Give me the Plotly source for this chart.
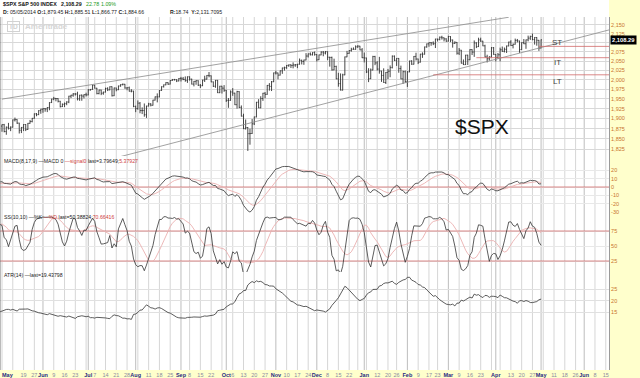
import numpy as np
import pandas as pd
import plotly.graph_objects as go

# ---------------- data ----------------
holidays = ["2014-04-18", "2014-05-26", "2014-07-04", "2014-09-01", "2014-11-27",
            "2014-12-25", "2015-01-01", "2015-01-19", "2015-02-16", "2015-04-03", "2015-05-25"]
first_day = "2014-05-05"

close = [
    # Mar 2014 (indicator warm-up, off screen)
    1845.73, 1873.91, 1873.81, 1877.03, 1878.04, 1877.17, 1867.63, 1868.20, 1846.34, 1841.13, 1858.83,
    1872.25, 1860.77, 1872.01, 1866.52, 1857.44, 1865.62, 1852.56, 1849.04, 1857.62, 1872.34,
    # Apr 2014 + May 1-2 (warm-up)
    1885.52, 1890.90, 1888.77, 1865.09, 1845.04, 1851.96, 1872.18, 1833.08, 1815.69, 1830.61, 1842.98,
    1862.31, 1864.85, 1871.89, 1879.55, 1875.39, 1878.61, 1863.40, 1869.43, 1878.33, 1883.95,
    1883.68, 1881.14,
    # May 2014
    1884.66, 1867.72, 1878.21, 1875.63, 1878.48, 1896.65, 1897.45, 1888.53, 1870.85, 1877.86, 1885.08,
    1872.83, 1888.03, 1892.49, 1900.53, 1911.91, 1909.78, 1920.03, 1923.57,
    # Jun 2014
    1924.97, 1924.24, 1927.88, 1940.46, 1949.44, 1951.27, 1950.79, 1943.89, 1930.11, 1936.16, 1937.78,
    1941.99, 1956.98, 1959.48, 1962.87, 1962.61, 1949.98, 1959.53, 1957.22, 1960.96, 1960.23,
    # Jul 2014
    1973.32, 1974.62, 1985.44, 1977.65, 1963.71, 1972.83, 1964.68, 1967.57, 1977.10, 1973.28, 1981.57,
    1958.12, 1978.22, 1973.63, 1983.53, 1987.01, 1987.98, 1978.34, 1978.91, 1969.95, 1970.07, 1930.67,
    # Aug 2014
    1925.15, 1938.99, 1920.21, 1920.24, 1909.57, 1931.59, 1936.92, 1933.75, 1946.72, 1955.18, 1955.06,
    1971.74, 1981.60, 1986.51, 1992.37, 1988.40, 1997.92, 2000.02, 2000.12, 1996.74, 2003.37,
    # Sep 2014
    2002.28, 2000.72, 1997.65, 2007.71, 2001.54, 1988.44, 1995.69, 1997.45, 1985.54, 1984.13, 1998.98,
    2001.57, 2011.36, 2010.40, 1994.29, 1982.77, 1998.30, 1965.99, 1982.85, 1977.80, 1972.29,
    # Oct 2014
    1946.16, 1946.17, 1967.90, 1964.82, 1935.10, 1968.89, 1928.21, 1906.13, 1874.74, 1877.70, 1862.49,
    1862.76, 1886.76, 1904.01, 1941.28, 1927.11, 1950.82, 1964.58, 1961.63, 1985.05, 1982.30, 1994.65,
    2018.05,
    # Nov 2014
    2017.81, 2012.10, 2023.57, 2031.21, 2031.92, 2038.26, 2039.68, 2038.25, 2039.33, 2039.82, 2041.32,
    2051.80, 2048.72, 2052.75, 2063.50, 2069.41, 2067.03, 2072.83, 2067.56,
    # Dec 2014
    2053.44, 2066.55, 2074.33, 2071.92, 2075.37, 2060.31, 2059.82, 2026.14, 2035.33, 2002.33, 1989.63,
    1972.74, 2012.89, 2061.23, 2070.65, 2078.54, 2082.17, 2081.88, 2088.77, 2090.57, 2080.35, 2058.90,
    # Jan 2015
    2058.20, 2020.58, 2002.61, 2025.90, 2062.14, 2044.81, 2028.26, 2023.03, 2011.27, 1992.67, 2019.42,
    2022.55, 2032.12, 2063.15, 2051.82, 2057.09, 2029.55, 2002.16, 2021.25, 1994.99,
    # Feb 2015
    2020.85, 2050.03, 2041.51, 2062.52, 2055.47, 2046.74, 2068.59, 2068.53, 2088.48, 2096.99, 2100.34,
    2099.68, 2097.45, 2110.30, 2109.66, 2115.48, 2113.86, 2110.74, 2104.50,
    # Mar 2015
    2117.39, 2107.78, 2098.53, 2101.04, 2071.26, 2079.43, 2044.16, 2040.24, 2065.95, 2053.40, 2081.19,
    2074.28, 2099.50, 2089.27, 2108.10, 2104.42, 2091.50, 2061.05, 2056.15, 2061.02, 2086.24, 2067.89,
    # Apr 2015
    2059.69, 2066.96, 2080.62, 2076.33, 2081.90, 2091.18, 2102.06, 2092.43, 2095.84, 2106.63, 2104.99,
    2081.18, 2100.40, 2097.29, 2107.96, 2112.93, 2117.69, 2108.92, 2114.76, 2106.85, 2085.51,
    # May 2015
    2108.29,
]

# points the high sits above max(open, close) / the low sits below min(open, close)
wick_up = [
    3, 3, 2, 4, 2, 3, 4, 2, 3, 5, 3, 2, 4, 3, 3, 2, 4, 3, 3, 2, 3,
    3, 4, 2, 5, 3, 6, 2, 4, 6, 3, 2, 3, 2, 3, 2, 4, 3, 2, 3, 2, 3, 3, 4,
    1, 2, 2, 11, 2, 1, 5, 1, 1, 1, 1, 1, 1, 4, 1, 1, 2, 1, 1,
    1, 1, 1, 1, 1, 4, 1, 1, 1, 2, 3, 2, 1, 1, 2, 2, 6, 1, 2, 1, 5,
    2, 1, 1, 1, 1, 1, 1, 1, 2, 3, 1, 1, 1, 1, 1, 1, 2, 1, 1, 3, 5, 1,
    2, 7, 3, 8, 18, 1, 3, 2, 1, 1, 9, 1, 1, 1, 1, 1, 1, 2, 2, 1, 1,
    4, 5, 8, 1, 1, 1, 1, 1, 1, 3, 1, 9, 1, 9, 1, 1, 1, 1, 1, 1, 8,
    1, 6, 4, 10, 1, 2, 1, 5, 6, 20, 1, 12, 12, 1, 1, 8, 6, 1, 3, 1, 6, 2, 1,
    6, 1, 1, 1, 3, 1, 1, 1, 7, 2, 1, 5, 2, 1, 8, 1, 4, 1, 3,
    1, 1, 2, 3, 2, 1, 1, 2, 21, 2, 16, 27, 3, 1, 7, 1, 4, 5, 4, 3, 1, 5,
    14, 1, 10, 4, 2, 2, 5, 33, 1, 19, 1, 6, 6, 2, 2, 1, 1, 8, 3, 3,
    2, 1, 2, 1, 10, 1, 1, 5, 1, 1, 1, 1, 4, 1, 1, 2, 4, 1, 2,
    2, 1, 1, 3, 1, 6, 1, 10, 1, 1, 1, 1, 7, 2, 6, 6, 1, 3, 6, 2, 2, 2,
    1, 5, 6, 9, 5, 1, 1, 5, 2, 5, 4, 1, 1, 10, 1, 7, 2, 8, 1, 1, 1,
    1,
]
wick_dn = [
    4, 2, 3, 2, 3, 3, 2, 4, 3, 2, 4, 3, 2, 3, 4, 3, 2, 3, 4, 3, 2,
    3, 2, 4, 2, 5, 2, 3, 5, 4, 3, 3, 2, 3, 2, 3, 2, 4, 3, 2, 3, 2, 3, 3,
    14, 2, 8, 3, 7, 1, 4, 2, 8, 7, 9, 4, 1, 1, 2, 1, 4, 1, 8,
    9, 7, 8, 7, 1, 3, 7, 3, 2, 1, 7, 4, 3, 5, 4, 4, 4, 5, 12, 6, 4,
    1, 2, 1, 1, 2, 2, 5, 4, 1, 3, 1, 2, 1, 4, 1, 2, 2, 2, 6, 1, 3, 2,
    9, 3, 7, 9, 5, 8, 1, 3, 1, 1, 14, 1, 1, 2, 1, 2, 1, 1, 2, 3, 1,
    7, 2, 3, 6, 4, 1, 6, 9, 2, 6, 1, 5, 1, 4, 1, 2, 4, 1, 1, 14, 4,
    4, 19, 1, 7, 1, 10, 2, 1, 1, 2, 42, 27, 1, 3, 1, 1, 1, 6, 10, 1, 11, 12, 1,
    4, 11, 1, 8, 7, 3, 4, 7, 8, 5, 9, 1, 8, 9, 1, 4, 2, 2, 3,
    5, 1, 1, 9, 4, 8, 25, 2, 1, 1, 8, 1, 1, 1, 1, 1, 3, 1, 1, 3, 1, 1,
    12, 3, 9, 1, 1, 6, 4, 7, 17, 1, 4, 18, 16, 2, 2, 15, 11, 1, 13, 3,
    14, 1, 2, 1, 4, 5, 1, 10, 1, 2, 8, 8, 4, 12, 6, 3, 5, 7, 2,
    1, 6, 12, 2, 4, 5, 1, 1, 1, 14, 1, 8, 13, 4, 1, 2, 1, 1, 10, 5, 1, 1,
    11, 3, 18, 1, 3, 10, 1, 1, 8, 1, 4, 9, 1, 1, 14, 4, 5, 2, 14, 15, 8,
    1,
]

tick_dates = ["2014-05-19", "2014-05-27", "2014-06-02", "2014-06-09", "2014-06-16", "2014-06-23",
              "2014-07-01", "2014-07-07", "2014-07-14", "2014-07-21", "2014-07-28", "2014-08-01",
              "2014-08-11", "2014-08-18", "2014-08-25", "2014-09-02", "2014-09-08", "2014-09-15",
              "2014-09-22", "2014-10-01", "2014-10-06", "2014-10-13", "2014-10-20", "2014-10-27",
              "2014-11-03", "2014-11-10", "2014-11-17", "2014-11-24", "2014-12-01", "2014-12-08",
              "2014-12-15", "2014-12-22", "2015-01-02", "2015-01-12", "2015-01-20", "2015-01-26",
              "2015-02-02", "2015-02-09", "2015-02-17", "2015-02-23", "2015-03-02", "2015-03-09",
              "2015-03-16", "2015-03-23", "2015-04-01", "2015-04-13", "2015-04-20", "2015-04-27",
              "2015-05-01", "2015-05-11", "2015-05-18", "2015-05-26", "2015-06-01", "2015-06-08",
              "2015-06-15"]
tick_text = ["19", "27", "Jun", "9", "16", "23", "Jul", "7", "14", "21", "28", "Aug", "11", "18", "25",
             "Sep", "8", "15", "22", "Oct", "6", "13", "20", "27", "Nov", "10", "17", "24", "Dec", "8",
             "15", "22", "Jan", "12", "20", "26", "Feb", "9", "17", "23", "Mar", "9", "16", "23", "Apr",
             "13", "20", "27", "May", "11", "18", "26", "Jun", "8", "15"]
month_names = {"Jan", "Feb", "Mar", "Apr", "May", "Jun", "Jul", "Aug", "Sep", "Oct", "Nov", "Dec"}

upper_trend_dates = ["2014-05-05", "2015-04-10"]
upper_trend_px = [1949.4, 2172.0]
lower_trend_dates = ["2014-07-23", "2015-06-19"]
lower_trend_px = [1806.9, 2139.9]

level_names = ["ST", "IT", "LT"]
level_px = [2090.0, 2059.0, 2013.0]
level_start = ["2015-04-30", "2015-03-19", "2015-02-19"]
level_end = "2015-06-19"

price_ticks = [1825, 1850, 1875, 1900, 1925, 1950, 1975, 2000, 2025, 2050, 2075, 2100, 2125, 2150]
macd_ticks = [20, 10, 0, -10, -20, -30]
ss_ticks = [75, 50, 25]
atr_ticks = [25, 20, 15]
ss_bands = [75, 25]
last_price = 2108.29

# ---------------- derived ----------------
sessions = pd.bdate_range("2014-03-03", "2015-06-30")
sessions = sessions[~sessions.isin(pd.to_datetime(holidays))]
offset = sessions.get_loc(pd.Timestamp(first_day))
pos = {d.strftime("%Y-%m-%d"): i - offset for i, d in enumerate(sessions)}

n = len(close)
assert len(wick_up) == n and len(wick_dn) == n, (n, len(wick_up), len(wick_dn))
xi = np.arange(n) - offset
c = np.array(close, float)
o = np.r_[c[0], c[:-1]]
h = np.maximum(o, c) + np.array(wick_up, float)
l = np.minimum(o, c) - np.array(wick_dn, float)

cs, hs, ls = pd.Series(c), pd.Series(h), pd.Series(l)
macd = cs.ewm(span=8, adjust=False).mean() - cs.ewm(span=17, adjust=False).mean()
signal = macd.ewm(span=9, adjust=False).mean()
hh, ll = hs.rolling(10).max(), ls.rolling(10).min()
fastk = 100 * (cs - ll) / (hh - ll)
pk = fastk.rolling(3).mean()
pdd = pk.rolling(10).mean()
prev = cs.shift(1)
tr = pd.concat([hs - ls, (hs - prev).abs(), (ls - prev).abs()], axis=1).max(axis=1)
atr = np.full(n, np.nan)
atr[14] = tr.iloc[1:15].mean()
for i in range(15, n):
    atr[i] = (atr[i - 1] * 13 + tr.iloc[i]) / 14

# ---------------- layout geometry ----------------
W, H = 640, 378
P_TOP, P_BOT, P_RIGHT = 17, 370, 609
X_RANGE = [-0.93, 281.5]


def fy(y):
    return (P_BOT - y) / (P_BOT - P_TOP)


def fx(x):
    return x / P_RIGHT


shown = xi >= 0
ind = xi >= -3
RED = "#d26a6a"
PINK = "#ebb0b0"
ORANGE = "#c8742c"
INK = "#333333"

fig = go.Figure()
fig.add_trace(go.Ohlc(x=xi[shown], open=o[shown], high=h[shown], low=l[shown], close=c[shown],
                      increasing=dict(line=dict(color=INK, width=0.9)),
                      decreasing=dict(line=dict(color=INK, width=0.9)),
                      tickwidth=0.4, xaxis="x", yaxis="y", hoverinfo="skip"))
fig.add_trace(go.Scatter(x=[pos[d] for d in upper_trend_dates], y=upper_trend_px, mode="lines",
                         line=dict(color="#8a8a8a", width=0.8), xaxis="x", yaxis="y"))
fig.add_trace(go.Scatter(x=[pos[d] for d in lower_trend_dates], y=lower_trend_px, mode="lines",
                         line=dict(color="#8a8a8a", width=0.8), xaxis="x", yaxis="y"))
for nm, lv, st in zip(level_names, level_px, level_start):
    fig.add_trace(go.Scatter(x=[pos[st], pos[level_end]], y=[lv, lv], mode="lines",
                             line=dict(color=RED, width=0.8), xaxis="x", yaxis="y"))

# MACD
fig.add_trace(go.Scatter(x=X_RANGE, y=[0, 0], mode="lines", line=dict(color=RED, width=0.8),
                         xaxis="x", yaxis="y2"))
fig.add_trace(go.Scatter(x=xi[ind], y=signal[ind], mode="lines", line=dict(color=PINK, width=0.9),
                         xaxis="x", yaxis="y2"))
fig.add_trace(go.Scatter(x=xi[ind], y=macd[ind], mode="lines", line=dict(color=INK, width=0.8),
                         xaxis="x", yaxis="y2"))
# Slow stochastic
for b in ss_bands:
    fig.add_trace(go.Scatter(x=X_RANGE, y=[b, b], mode="lines", line=dict(color=RED, width=0.8),
                             xaxis="x", yaxis="y3"))
fig.add_trace(go.Scatter(x=xi[ind], y=pdd[ind], mode="lines", line=dict(color=PINK, width=0.9),
                         xaxis="x", yaxis="y3"))
fig.add_trace(go.Scatter(x=xi[ind], y=pk[ind], mode="lines", line=dict(color=INK, width=0.8),
                         xaxis="x", yaxis="y3"))
# ATR
fig.add_trace(go.Scatter(x=xi[ind], y=atr[ind], mode="lines", line=dict(color=INK, width=0.8),
                         xaxis="x", yaxis="y4"))

# gridlines (vertical) as shapes
shapes = [dict(type="rect", xref="paper", yref="paper", x0=0, x1=1, y0=0, y1=fy(0),
               fillcolor="white", line=dict(width=0), layer="below")]
prev_d = None
for d in sessions:
    i = pos[d.strftime("%Y-%m-%d")]
    if prev_d is not None and -1 <= i <= 283:
        if d.month != prev_d.month:
            shapes.append(dict(type="line", xref="x", yref="paper", x0=i, x1=i, y0=0, y1=1,
                               line=dict(color="#bdbdbd", width=1), layer="below"))
        elif d.isocalendar()[1] != prev_d.isocalendar()[1]:
            shapes.append(dict(type="line", xref="x", yref="paper", x0=i, x1=i, y0=0, y1=1,
                               line=dict(color="#d6d6d6", width=1), layer="below"))
    prev_d = d
shapes.append(dict(type="line", xref="paper", yref="paper", x0=0, x1=0, y0=0, y1=1,
                   line=dict(color="#777", width=1)))

ticktext = [f'<b><span style="color:#1f2a80">{t}</span></b>' if t in month_names else t for t in tick_text]
# the 2,100 label sits under the last-price box, as in the original
price_text = ["" if v == 2100 else f"{v:,}" for v in price_ticks]

axis_common = dict(side="right", anchor="x", showline=True, linecolor="#9a9a9a", linewidth=1,
                   ticks="", tickfont=dict(size=5.5, color=ORANGE, family="Liberation Sans"),
                   showgrid=True, zeroline=False, fixedrange=True)

small = dict(family="Liberation Sans", size=5.2, color="#222")
hdr = dict(family="Liberation Sans", size=5.3, color="#111")
ann = []
ann.append(dict(x=fx(1), y=fy(4), xref="paper", yref="paper", xanchor="left", yanchor="middle",
                text="<b>$SPX S&amp;P 500 INDEX</b>", showarrow=False, font=hdr))
ann.append(dict(x=fx(59), y=fy(4), xref="paper", yref="paper", xanchor="left", yanchor="middle",
                text="<b>2,108.29</b>", showarrow=False, font=hdr))
ann.append(dict(x=fx(84), y=fy(4), xref="paper", yref="paper", xanchor="left", yanchor="middle",
                text="22.78", showarrow=False, font=dict(hdr, color="#1a9a1a")))
ann.append(dict(x=fx(99), y=fy(4), xref="paper", yref="paper", xanchor="left", yanchor="middle",
                text="1.09%", showarrow=False, font=dict(hdr, color="#1a9a1a")))
ann.append(dict(x=fx(1), y=fy(11.5), xref="paper", yref="paper", xanchor="left", yanchor="middle",
                text="<b>D:</b> 05/05/2014 <b>O:</b>1,879.45 <b>H:</b>1,885.51 <b>L:</b>1,866.77 <b>C:</b>1,884.66",
                showarrow=False, font=small))
ann.append(dict(x=fx(168), y=fy(11.5), xref="paper", yref="paper", xanchor="left", yanchor="middle",
                text="<b>R:</b>18.74  <b>Y:</b>2,131.7095", showarrow=False, font=small))
# watermark
ann.append(dict(x=fx(7), y=fy(27), xref="paper", yref="paper", xanchor="left", yanchor="middle",
                text="<b>TD</b>", showarrow=False, bordercolor="#d2d2d2", borderwidth=1, borderpad=1,
                font=dict(family="Liberation Sans", size=6.5, color="#d2d2d2")))
ann.append(dict(x=fx(23), y=fy(27), xref="paper", yref="paper", xanchor="left", yanchor="middle",
                text="<b>Ameritrade</b>", showarrow=False,
                font=dict(family="Liberation Sans", size=8, color="#d6d6d6")))
# big label
ann.append(dict(x=fx(482), y=fy(126), xref="paper", yref="paper", xanchor="center", yanchor="middle",
                text="$SPX", showarrow=False, font=dict(family="Liberation Sans", size=21, color="#111")))
for nm, yy in zip(level_names, [43, 62, 81]):
    ann.append(dict(x=fx(557), y=fy(yy), xref="paper", yref="paper", xanchor="center", yanchor="middle",
                    text=nm, showarrow=False, font=dict(family="Liberation Sans", size=8, color="#444")))
# panel labels
ann.append(dict(x=fx(2), y=fy(161), xref="paper", yref="paper", xanchor="left", yanchor="middle",
                text='MACD(8,17,9) —MACD 0 <span style="color:#d04040">—signal0</span> last=3.79649;'
                     '<span style="color:#d04040">5.37927</span>', showarrow=False, font=small))
ann.append(dict(x=fx(2), y=fy(217), xref="paper", yref="paper", xanchor="left", yanchor="middle",
                text='SS(10,10) —%K <span style="color:#d04040">—%D</span> last=50.38824;'
                     '<span style="color:#d04040">70.66416</span>', showarrow=False, font=small))
ann.append(dict(x=fx(2), y=fy(275), xref="paper", yref="paper", xanchor="left", yanchor="middle",
                text="ATR(14) —last=19.43798", showarrow=False, font=small))
# last price box
ann.append(dict(x=1, y=np.log10(last_price), xref="paper", yref="y", xanchor="left", yanchor="middle",
                xshift=1, text="<b>2,108.29</b>", showarrow=False, bgcolor="#000", borderpad=1,
                font=dict(family="Liberation Sans", size=5.8, color="white")))
# first month label (clamped at left edge)
ann.append(dict(x=0, y=fy(375), xref="paper", yref="paper", xanchor="left", yanchor="middle",
                text='<b><span style="color:#1f2a80">May</span></b>', showarrow=False,
                font=dict(family="Liberation Sans", size=5.5, color="#1f2a80")))

fig.update_layout(
    width=W, height=H,
    margin=dict(l=0, r=W - P_RIGHT, t=P_TOP, b=H - P_BOT, pad=0),
    paper_bgcolor="#ffffcc", plot_bgcolor="rgba(0,0,0,0)",
    showlegend=False, hovermode=False,
    shapes=shapes, annotations=ann,
    xaxis=dict(domain=[0, 1], range=X_RANGE, anchor="y4", showgrid=False, zeroline=False,
               showline=False, ticks="", tickangle=0,
               tickvals=[pos[d] for d in tick_dates], ticktext=ticktext,
               tickfont=dict(size=5.5, color="#8a8aa0", family="Liberation Sans"),
               rangeslider=dict(visible=False), fixedrange=True),
    yaxis=dict(domain=[fy(156), 1], type="log",
               range=[np.log10(1808.3), np.log10(2172.7)],
               tickvals=price_ticks, ticktext=price_text,
               gridcolor="#d8d8d8", **axis_common),
    yaxis2=dict(domain=[fy(213), fy(156)], range=[-30.95, 36.9], tickvals=macd_ticks,
                ticktext=[str(v) for v in macd_ticks], gridcolor="#e8e8e8", **axis_common),
    yaxis3=dict(domain=[fy(272), fy(213)], range=[6.7, 105], tickvals=ss_ticks,
                ticktext=[str(v) for v in ss_ticks], gridcolor="#e8e8e8", **axis_common),
    yaxis4=dict(domain=[0, fy(272)], range=[-10.5, 32.6], tickvals=atr_ticks,
                ticktext=[str(v) for v in atr_ticks], gridcolor="#e0e0e0", **axis_common),
)

fig.write_html("out.html")
